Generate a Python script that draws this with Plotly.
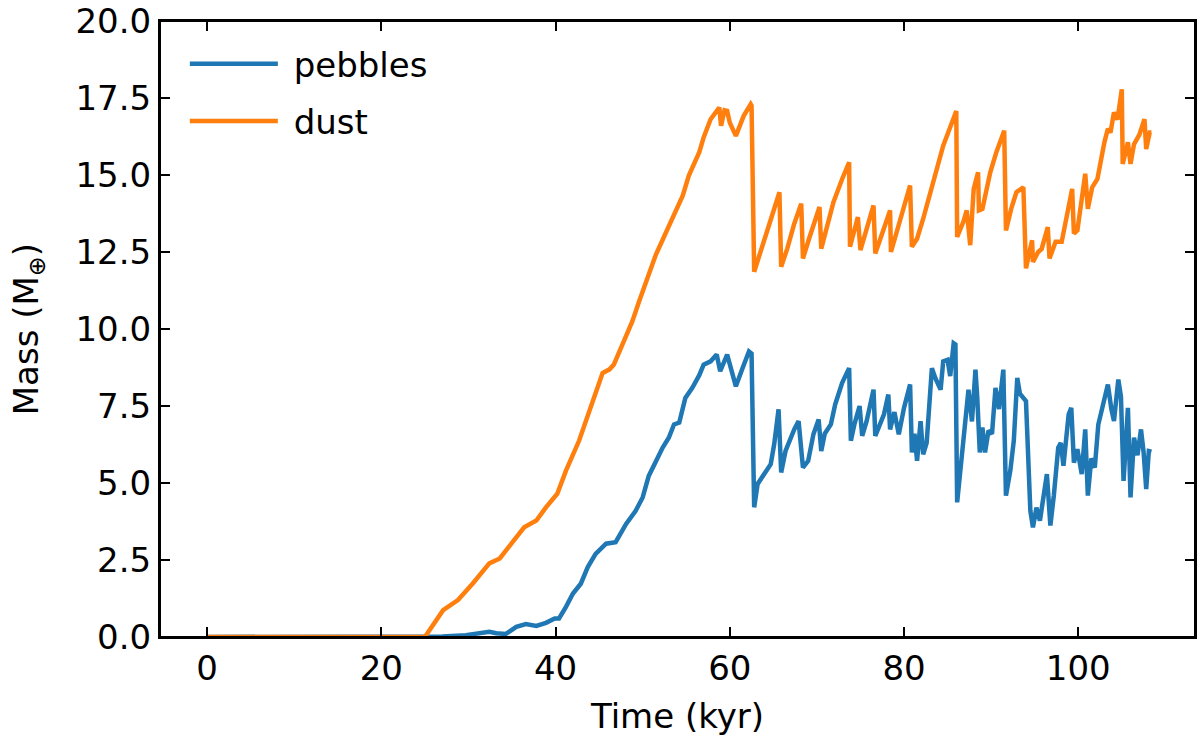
import plotly.graph_objects as go

# ---- data ----
dust_t = [0, 25.0, 27.1, 28.8, 30.5, 32.4, 33.6, 35.3, 36.4, 37.8, 38.9, 40.2, 41.2, 42.7, 44.1, 44.6,
          45.4, 46.2, 46.7, 47.5, 48.8, 49.6, 50.6, 51.5, 52.7, 53.4, 54.6, 55.3, 56.5, 57.0, 57.8, 58.3,
          58.8, 59.0, 59.4, 59.7, 60.0, 60.7, 61.6, 62.4, 62.5, 62.8, 63.7, 64.5, 65.7, 65.9, 66.6, 67.4,
          68.2, 68.4, 69.1, 70.3, 70.5, 71.9, 72.9, 73.7, 73.8, 74.7, 75.0, 76.5, 76.7, 78.4, 78.5,
          80.0, 80.7, 80.9, 81.5, 82.2, 83.4, 84.5, 86.0, 86.1, 86.8, 87.2, 87.6, 88.0, 88.5, 88.6,
          89.0, 89.9, 90.6, 91.5, 91.7, 92.3, 92.9, 93.7, 94.0, 94.7, 94.8, 95.4, 95.8, 96.5, 96.7,
          97.4, 98.1, 98.7, 99.3, 99.5, 99.9, 100.8, 101.1, 101.6, 102.2, 103.0, 103.4, 103.7, 104.1,
          104.5, 105.0, 105.1, 105.7, 106.0, 106.4, 107.0, 107.6, 107.8, 108.2, 108.4]
dust_m = [0, 0.0, 0.87, 1.2, 1.74, 2.39, 2.55, 3.2, 3.56, 3.78, 4.21, 4.65, 5.4, 6.37, 7.55, 7.88,
          8.57, 8.69, 8.85, 9.38, 10.24, 10.9, 11.75, 12.4, 13.15, 13.58, 14.33, 14.98, 15.74, 16.22, 16.81, 17.0,
          17.19, 16.6, 17.1, 17.08, 16.7, 16.27, 16.92, 17.3, 17.25, 11.86, 12.72, 13.37, 14.44, 12.02, 12.61, 13.42,
          14.07, 12.29, 12.93, 13.96, 12.61, 14.12, 14.87, 15.41, 12.67, 13.63, 12.56, 14.01, 12.45, 13.85, 12.5,
          13.9, 14.66, 12.67, 12.93, 13.58, 14.77, 15.95, 17.08, 12.99, 13.47, 13.85, 12.72, 14.55, 15.09, 13.85,
          13.9, 15.09, 15.74, 16.44, 13.2, 13.9, 14.44, 14.6, 11.97, 12.88, 12.18, 12.5, 12.6, 13.31, 12.29,
          12.83, 12.83, 13.69, 14.55, 13.1, 13.2, 15.04, 13.9, 14.6, 14.87, 16.06, 16.5, 16.38, 17.03,
          16.8, 17.78, 15.36, 16.06, 15.36, 16.0, 16.3, 16.81, 15.84, 16.38, 16.38]

peb_t = [0, 25.0, 27.0, 29.7, 31.0, 32.4, 33.2, 34.3, 35.5, 36.6, 37.8, 38.9, 39.9, 40.4, 41.2, 42.0,
         42.9, 43.7, 44.6, 45.8, 46.9, 48.1, 49.2, 50.0, 50.7, 51.5, 52.3, 53.0, 53.6, 54.2, 54.9, 55.7,
         56.5, 57.0, 57.8, 58.5, 58.9, 59.7, 60.2, 60.7, 61.4, 62.2, 62.5, 62.8, 63.2, 63.9, 64.7, 65.1,
         65.6, 65.9, 66.4, 67.4, 67.9, 68.4, 69.0, 69.6, 70.2, 70.5, 70.9, 71.6, 72.1, 72.9, 73.7, 73.9,
         74.3, 74.9, 75.2, 75.7, 76.5, 76.7, 77.2, 77.7, 78.2, 78.4, 78.9, 79.4, 80.0, 80.7, 80.9, 81.2,
         81.5, 81.9, 82.2, 82.6, 83.2, 83.6, 84.2, 84.5, 85.0, 85.3, 85.7, 85.9, 86.1, 86.6, 87.0, 87.4,
         87.8, 88.2, 88.4, 88.7, 89.0, 89.3, 89.7, 90.1, 90.5, 90.9, 91.4, 91.7, 92.2, 92.6, 93.0, 93.3,
         94.0, 94.3, 94.5, 94.8, 95.2, 95.6, 96.0, 96.4, 96.8, 97.2, 97.7, 98.0, 98.3, 98.9, 99.2, 99.5,
         99.9, 100.4, 100.8, 101.1, 101.5, 101.9, 102.3, 102.9, 103.4, 103.8, 104.1, 104.6, 104.9, 105.2,
         105.7, 106.0, 106.4, 106.8, 107.2, 107.5, 107.8, 108.1, 108.4]
peb_m = [0, 0.0, 0.02, 0.06, 0.1, 0.17, 0.12, 0.1, 0.33, 0.42, 0.36, 0.46, 0.6, 0.6, 0.98, 1.41,
         1.73, 2.27, 2.7, 3.03, 3.08, 3.67, 4.1, 4.53, 5.23, 5.72, 6.15, 6.47, 6.9, 6.96, 7.76, 8.09,
         8.5, 8.84, 8.95, 9.17, 8.63, 9.17, 8.7, 8.14, 8.68, 9.27, 9.2, 4.21, 4.97, 5.29, 5.61, 6.26,
         7.39, 5.34, 6.04, 6.74, 7.01, 5.5, 5.72, 6.58, 7.06, 6.04, 6.6, 6.9, 7.55, 8.25, 8.73, 6.37,
         6.9, 7.5, 6.53, 7.0, 8.03, 6.53, 6.9, 7.23, 7.87, 6.74, 7.3, 6.58, 7.44, 8.2, 5.99, 6.6,
         5.72, 7.01, 5.93, 6.3, 8.73, 8.4, 8.03, 8.95, 9.0, 8.47, 9.54, 9.5, 4.37, 5.82, 7.01, 8.03,
         7.0, 8.68, 7.8, 5.99, 6.8, 5.99, 6.7, 6.6, 8.09, 7.4, 8.68, 4.59, 5.4, 6.37, 8.41, 7.9,
         7.66, 5.4, 4.1, 3.56, 4.2, 3.78, 4.64, 5.29, 3.62, 4.6, 6.15, 6.3, 5.56, 7.23, 7.44, 5.66,
         6.1, 5.29, 6.74, 4.59, 5.8, 5.5, 6.9, 7.66, 8.2, 7.4, 7.01, 8.36, 7.8, 5.07,
         7.44, 4.53, 6.47, 5.9, 6.74, 6.0, 4.8, 6.04, 6.02]

x_ticks = [0, 20, 40, 60, 80, 100]
y_ticks = [0, 2.5, 5, 7.5, 10, 12.5, 15, 17.5, 20]
series_names = ["pebbles", "dust"]

FONT = "DejaVu Sans"
FS = 34
NBSP = "\u00a0"

fig = go.Figure()
fig.add_trace(go.Scatter(x=peb_t, y=peb_m, mode="lines", name=NBSP + series_names[0],
                         line=dict(color="#1f77b4", width=4.5), legendgroup="a"))
fig.add_trace(go.Scatter(x=dust_t, y=dust_m, mode="lines", name=NBSP + series_names[1],
                         line=dict(color="#ff7f0e", width=4.5), legendgroup="b"))

tick_style = dict(showline=True, linecolor="black", linewidth=2, mirror="allticks",
                  ticks="inside", ticklen=10, tickwidth=2, tickcolor="black",
                  showgrid=False, zeroline=False,
                  tickfont=dict(family=FONT, size=FS, color="black"))

fig.update_xaxes(range=[-5.4, 113.4], tickvals=x_ticks,
                 title=dict(text="Time (kyr)", font=dict(family=FONT, size=FS, color="black"), standoff=17),
                 **tick_style)
fig.update_yaxes(range=[0, 20], tickvals=y_ticks, tickformat=".1f",
                 ticklabeloverflow="allow", **tick_style)

fig.add_annotation(text="Mass (M<sub>⊕</sub>)", xref="paper", yref="paper",
                   x=-0.1273, y=0.5, xanchor="center", yanchor="middle",
                   textangle=-90, showarrow=False,
                   font=dict(family=FONT, size=FS, color="black"))

# axes frame (box around the plotting area)
fig.add_shape(type="rect", xref="paper", yref="paper", x0=0, x1=1, y0=0, y1=1,
              line=dict(color="black", width=2), fillcolor="rgba(0,0,0,0)", layer="above")

fig.update_layout(
    width=1198, height=744,
    margin=dict(l=160, r=1, t=18, b=107),
    plot_bgcolor="white", paper_bgcolor="white",
    font=dict(family=FONT, size=FS, color="black"),
    legend=dict(x=0.024, y=0.977, xanchor="left", yanchor="top",
                bgcolor="rgba(0,0,0,0)", borderwidth=0,
                font=dict(family=FONT, size=FS, color="black"),
                itemwidth=88, tracegroupgap=10),
    showlegend=True,
)

fig.write_html("out.html")
